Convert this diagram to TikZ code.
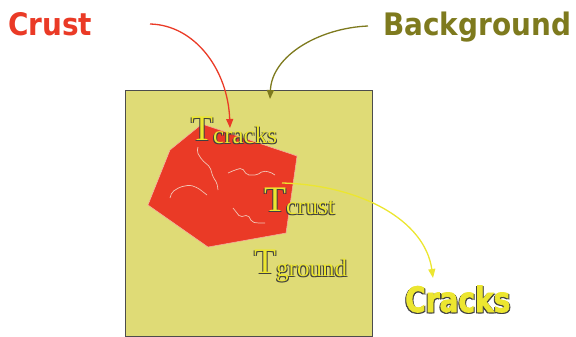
\documentclass[tikz,border=0pt]{standalone}
\usepackage{fontspec}
\usepackage{xcolor}
\usepackage{tikz}
\usetikzlibrary{arrows.meta,positioning}
\newfontfamily\labfont[FakeStretch=0.9]{DejaVu Sans}
\newfontfamily\crackfont[FakeStretch=0.8,FakeBold=2]{DejaVu Sans}
\newfontfamily\tfont{Liberation Serif}
\definecolor{crustred}{HTML}{EA3A26}
\definecolor{bgolive}{HTML}{7E7A1E}
\definecolor{bgfill}{HTML}{DFDB76}
\definecolor{crackyel}{HTML}{ECE630}
\definecolor{crackline}{HTML}{F2C4B4}
\newcommand{\tsub}[1]{{\fontsize{36}{36}\selectfont T}{\fontsize{25}{25}\selectfont\raisebox{-3pt}{#1}}}
% dark edge under yellow text, in one box
\newcommand{\edged}[1]{%
  \rlap{\kern-1pt\raisebox{-1pt}{\color{black!75}#1}}%
  \rlap{\kern1pt\raisebox{-1pt}{\color{black!75}#1}}%
  {\color{crackyel}#1}}

\begin{document}
\begin{tikzpicture}[x=1pt,y=-1pt,
    word/.style={inner sep=0pt, anchor=base west},
    tlab/.style={word, font=\tfont},
    pointer/.style={line width=1.3pt, -{Triangle[length=9pt,width=7pt]}},
    crack/.style={crackline, line width=0.7pt, rounded corners=2pt}]
  \useasboundingbox (0,0) rectangle (576,337);

  % background block and crust
  \draw[fill=bgfill, draw=black!70, line width=0.8pt] (125,90) rectangle (372,336);
  \fill[crustred, draw=white!60!crustred, line width=0.5pt]
    (148,205) -- (170,150) -- (202,124) -- (297,156) -- (286,233) -- (208,247) -- cycle;

  % cracks
  \draw[crack] (198,147) -- (197,152) -- (202,160) -- (210,167) -- (213,177) -- (217,183) -- (218,190);
  \draw[crack] (170,198) -- (172,192) -- (180,187) -- (190,185) -- (198,188) -- (207,195);
  \draw[crack] (228,173) -- (235,170) -- (242,168) -- (247,175) -- (257,175) -- (263,171) -- (270,172) -- (275,175);
  \draw[crack] (233,208) -- (237,213) -- (240,217) -- (248,215) -- (252,222) -- (257,223) -- (265,223);

  % temperature labels
  \node[tlab] (tcracks) at (191,140) {\edged{\tsub{cracks}}};
  \node[tlab] (tcrust) at (264,211) {\edged{\tsub{crust}}};
  \node[tlab] (tground) at (254,273) {\edged{\tsub{ground}}};

  % titles
  \node[word, font=\labfont\bfseries\fontsize{31}{31}\selectfont, text=crustred] (crust) at (8,36) {Crust};
  \node[word, font=\labfont\bfseries\fontsize{31}{31}\selectfont, text=bgolive] (background) at (383,36) {Background};
  \node[word, font=\crackfont\bfseries\fontsize{35}{35}\selectfont] (cracks) at (405,312) {\edged{Cracks}};

  % pointers
  \coordinate (crust-from) at (150,24);
  \coordinate (crust-to) at (230,128);
  \coordinate (bg-from) at (368,26);
  \coordinate (bg-to) at (270,99);
  \coordinate (cr-from) at (282,183);
  \coordinate (cr-to) at (433,278);
  \draw[pointer, crustred] (crust-from) .. controls (195,25) and (228,70) .. (crust-to);
  \draw[pointer, bgolive] (bg-from) .. controls (320,28) and (272,55) .. (bg-to);
  \draw[pointer, crackyel] (cr-from) .. controls (360,185) and (425,220) .. (cr-to);
\end{tikzpicture}
\end{document}
